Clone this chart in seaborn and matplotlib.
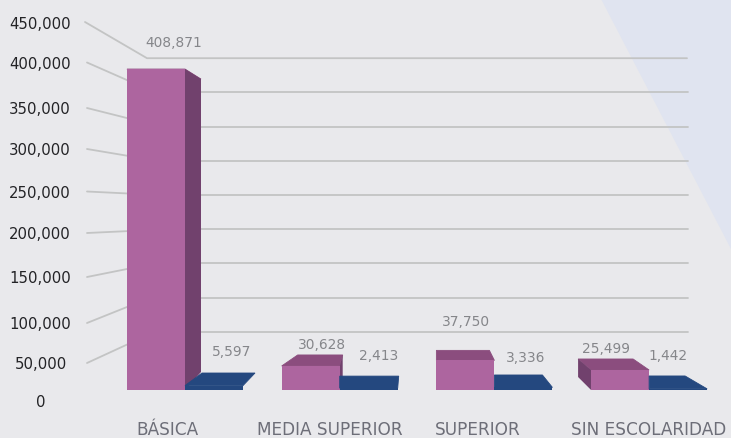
import matplotlib
matplotlib.use("Agg")
import matplotlib.pyplot as plt
from matplotlib.patches import Polygon
from matplotlib.transforms import Affine2D
import pandas as pd
import seaborn as sns

# --- Data ---
categories = ["BÁSICA", "MEDIA SUPERIOR", "SUPERIOR", "SIN ESCOLARIDAD"]
pink_values = [408871, 30628, 37750, 25499]
blue_values = [5597, 2413, 3336, 1442]
tick_values = [0, 50000, 100000, 150000, 200000, 250000, 300000, 350000, 400000, 450000]

# --- Layout (reference pixels) ---
W, H = 731, 439
BASE_PX = 391          # y pixel of value 0 on the front of the bars
PX_PER_1000 = 0.785    # front face scale
FIRST_GROUP_PX = 185
GROUP_STEP_PX = 154.7

tick_label_y = [403, 365, 325, 279, 235, 193.5, 151, 110, 64.5, 24.5]
category_x = [167, 330, 478, 649]
pink_label_xy = [(174, 43), (322, 345), (466, 322), (606, 349)]
blue_label_xy = [(232, 352), (379, 356), (526, 358), (668, 356)]

# 3D look of each bar: back-left dx, back-right dx, top dy, bottom dy
pink_depth = [(15, 16, 10, -18), (16, 3, -11, -13), (0, -5, -10, -10), (-13, -16, -11, -13)]
blue_depth = [(17, 12, -12.6, 0), (0, 1, -12, 0), (0, -10, -12.4, 0), (0, -22, -12.9, 0)]

PINK_FRONT = "#ad659f"
PINK_SIDE = "#71416d"
PINK_TOP = "#8b4d7e"
BLUE_FRONT = "#24487f"
BLUE_TOP = "#24487f"
BG = "#e9e9ec"
BG_CORNER = "#e0e4f0"
GRID = "#c3c4c4"

df = pd.DataFrame({
    "categoria": categories * 2,
    "serie": ["a"] * 4 + ["b"] * 4,
    "valor": pink_values + blue_values,
})

sns.set_theme(style="white")
plt.rcParams["font.family"] = ["DejaVu Sans"]
fig = plt.figure(figsize=(W / 100, H / 100), dpi=100, facecolor=BG)
ax = fig.add_axes([0, 0, 1, 1])

sns.barplot(data=df, x="categoria", y="valor", hue="serie", order=categories,
            palette={"a": PINK_FRONT, "b": BLUE_FRONT}, saturation=1, width=0.75,
            gap=0, linewidth=0, legend=False, zorder=4, ax=ax)

ax.set_xlim(-FIRST_GROUP_PX / GROUP_STEP_PX, (W - FIRST_GROUP_PX) / GROUP_STEP_PX)
ax.set_ylim(-(H - BASE_PX) / PX_PER_1000 * 1000, BASE_PX / PX_PER_1000 * 1000)
ax.set_axis_off()

# Pixel coordinates of the reference, y going down
px = Affine2D().scale(1 / W, -1 / H).translate(0, 1) + fig.transFigure
dx_unit = 1 / GROUP_STEP_PX
dy_unit = 1000 / PX_PER_1000


def add_faces(bar, depth, top_color, side_color, z):
    left, right = bar.get_x(), bar.get_x() + bar.get_width()
    top = bar.get_height()
    dl, dr, dt, db = depth
    up_top, up_bottom = -dt * dy_unit, -db * dy_unit
    back_l, back_r = left + dl * dx_unit, right + dr * dx_unit
    # the edge closes the seam against the front face
    ax.add_patch(Polygon([(left, top), (right, top), (back_r, top + up_top), (back_l, top + up_top)],
                         fc=top_color, ec=top_color, lw=0.6, zorder=z))
    if side_color is None:
        return
    if dr > 0:
        ax.add_patch(Polygon([(right, top), (right, 0), (back_r, up_bottom), (back_r, top + up_top)],
                             fc=side_color, lw=0, zorder=z))
    if dl < 0:
        ax.add_patch(Polygon([(left, top), (left, 0), (back_l, up_bottom), (back_l, top + up_top)],
                             fc=side_color, lw=0, zorder=z))


for bar, depth in zip(ax.containers[0], pink_depth):
    add_faces(bar, depth, PINK_TOP, PINK_SIDE, 3)
for bar, depth in zip(ax.containers[1], blue_depth):
    add_faces(bar, depth, BLUE_TOP, None, 5)

# Background corner
ax.add_patch(Polygon([(601, 0), (731, 0), (731, 250)], fc=BG_CORNER, lw=0, transform=px, zorder=0))

# Grid: back wall and the lines going to the labels
for v, label_y in zip(tick_values, tick_label_y):
    if v == 0:
        continue
    wall_y = 367 - v * 34.2 / 50000
    front_y = 381.6 - v * 37.4 / 50000
    if v == 450000:
        ax.plot([85, 147, 687], [23, wall_y, wall_y], color=GRID, lw=1.3, transform=px, zorder=1)
    else:
        ax.plot([87, 130], [label_y - 1, front_y], color=GRID, lw=1.3, transform=px, zorder=1)
        ax.plot([190, 688], [wall_y, wall_y], color=GRID, lw=1.3, transform=px, zorder=1)

# Texts
for v, y in zip(tick_values, tick_label_y):
    ax.text(71 if v > 50000 else (67 if v else 41), y, f"{v:,}", transform=px,
            ha="right" if v else "center", va="center", fontsize=10.7, color="#232326")
for name, x in zip(categories, category_x):
    ax.text(x, 435, name, transform=px, ha="center", va="baseline", fontsize=12.2, color="#6d6e78")
for v, (x, y) in zip(pink_values + blue_values, pink_label_xy + blue_label_xy):
    ax.text(x, y, f"{v:,}", transform=px, ha="center", va="center", fontsize=9.9, color="#85868a")

fig.savefig("out.png", dpi=100, facecolor=BG)
